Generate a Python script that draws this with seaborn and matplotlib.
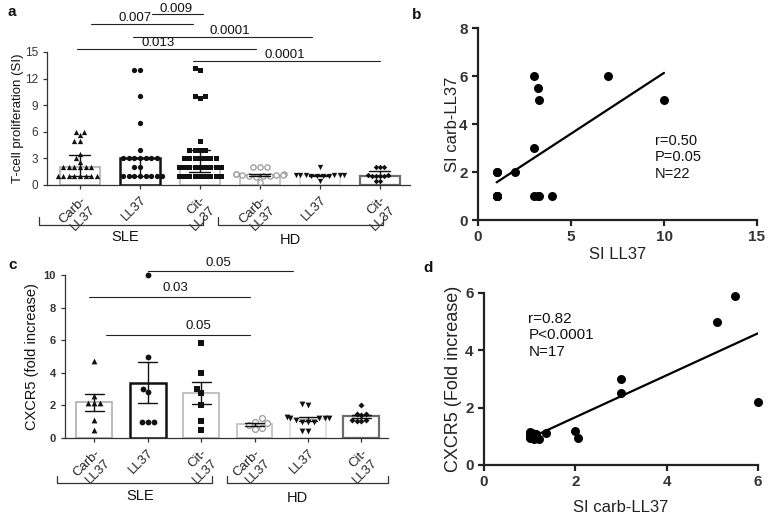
import matplotlib
matplotlib.use('Agg')
import matplotlib.pyplot as plt
import numpy as np
import pandas as pd
import seaborn as sns

# =========================
# data
# =========================
group_keys = ['SLE Carb', 'SLE LL37', 'SLE Cit', 'HD Carb', 'HD LL37', 'HD Cit']
tick_labels = ['Carb-\nLL37', 'LL37', 'Cit-\nLL37', 'Carb-\nLL37', 'LL37', 'Cit-\nLL37']

# panel a - T-cell proliferation (SI)
a_sle_carb = [6, 6, 5, 5, 5.6, 3.5, 3.0, 2.6, 2, 2, 2, 2, 2, 2, 1, 1, 1, 1, 1, 1, 1, 1]
a_sle_ll37 = [13, 13, 10, 7, 4, 3, 3, 3, 3, 3, 3, 3, 2, 2, 1, 1, 1, 1, 1, 1, 1, 1]
a_sle_cit = [13.2, 13, 10, 10, 9.8, 5, 4, 4, 4, 4, 3, 3, 3, 3, 3, 3, 3,
             2, 2, 2, 2, 2, 2, 2, 2, 2, 1, 1, 1, 1, 1, 1, 1, 1, 1]
a_hd_carb = [2, 2, 2, 1.2, 1.2, 1.2, 1.1, 1.1, 1.1, 1, 1, 1, 0.9, 0.3]
a_hd_ll37 = [2, 1.1, 1.1, 1.1, 1.1, 1.1, 1.1, 1, 1, 1, 1, 0.5]
a_hd_cit = [2, 2, 2, 1.1, 1.1, 1, 1, 1, 1, 0.5, 0.5]

# panel c - CXCR5 fold increase
c_sle_carb = [4.7, 2.55, 2.15, 2.15, 2.15, 1.1, 0.5]
c_sle_ll37 = [10, 5, 3, 2.8, 1, 1, 1]
c_sle_cit = [5.85, 4, 3, 2.75, 2.05, 1.05, 0.5]
c_hd_carb = [1.2, 1.0, 0.9, 0.8, 0.6, 0.55]
c_hd_ll37 = [2.0, 2.1, 1.25, 1.2, 1.2, 1.25, 1.3, 1.1, 1.0, 1.0, 1.0, 0.45, 0.4]
c_hd_cit = [2.0, 1.45, 1.4, 1.45, 1.1, 1.05, 1.05, 1.1]

# panel b - SI LL37 vs SI carb-LL37
b_si_ll37 = [1, 1, 1, 1, 1, 1, 1, 2, 3, 3.2, 3.3, 3, 3, 3.2, 3.3, 4, 7, 10]
b_si_carb = [1, 1, 1, 1, 1, 2, 2, 2, 6, 5.5, 5, 3, 1, 1, 1, 1, 6, 5]

# panel d - SI carb-LL37 vs CXCR5
d_si_carb = [1.0, 1.0, 1.05, 1.1, 1.15, 1.2, 1.35, 1.0, 1.1, 1.05,
             2.0, 2.05, 3.0, 3.0, 5.1, 5.5, 6.0]
d_cxcr5 = [1.15, 0.95, 1.1, 1.0, 1.08, 0.9, 1.1, 1.05, 0.92, 1.0,
           1.2, 0.95, 3.0, 2.5, 5.0, 5.9, 2.2]

# significance annotations: (x0, x1, y_line, label, x_text, y_text)
a_sig = [(1.2, 2.05, 19.3, '0.009', 1.6, 19.9),
         (0.18, 1.88, 18.15, '0.007', 0.92, 18.8),
         (0.88, 3.87, 16.7, '0.0001', 2.5, 17.4),
         (-0.05, 2.93, 15.3, '0.013', 1.3, 16.0),
         (1.88, 5.0, 14.0, '0.0001', 3.42, 14.65)]
c_sig = [(1.0, 3.72, 10.25, '0.05', 2.32, 10.75),
         (-0.1, 2.92, 8.65, '0.03', 1.51, 9.2),
         (0.22, 2.92, 6.32, '0.05', 1.95, 6.87)]

sns.set_theme(style='ticks')
plt.rcParams['font.family'] = ['Liberation Sans', 'DejaVu Sans']

fig = plt.figure(figsize=(7.73, 5.23), dpi=100)
ax_a = fig.add_axes([0.0608, 0.6463, 0.4696, 0.2543])
ax_b = fig.add_axes([0.6184, 0.5793, 0.3609, 0.3671])
ax_c = fig.add_axes([0.0841, 0.1625, 0.4179, 0.3117])
ax_d = fig.add_axes([0.6261, 0.1109, 0.3545, 0.3289])

bar_edges = ['#b5b5b5', '#111111', '#bdbdbd', '#c4c4c4', '#dedede', '#6e6e6e']
bar_lws = [1.3, 1.8, 1.3, 1.3, 1.3, 1.6]
markers = ['^', 'o', 's', 'o', 'v', 'D']
dot_sizes = [3.8, 3.8, 3.6, 3.8, 3.8, 2.8]


def bar_panel(ax, groups, estimator, errorbar, size_scale):
    df = pd.concat([pd.DataFrame({'group': k, 'value': v}) for k, v in zip(group_keys, groups)])
    sns.barplot(data=df, x='group', y='value', order=group_keys, estimator=estimator,
                errorbar=errorbar, capsize=0.35, width=0.67, color='white',
                err_kws={'color': '#111111', 'linewidth': 1.0}, ax=ax)
    for p, ec, lw in zip(ax.patches, bar_edges, bar_lws):
        p.set_facecolor('white')
        p.set_edgecolor(ec)
        p.set_linewidth(lw)
        p.set_zorder(1)
    for ln in ax.lines:
        ln.set_zorder(4)
    for i, (k, v) in enumerate(zip(group_keys, groups)):
        if k == 'HD Carb':
            # open gray circles
            sns.swarmplot(x=[k] * len(v), y=v, order=group_keys, marker='o',
                          size=dot_sizes[i] * size_scale, color='white',
                          edgecolor='#9a9a9a', linewidth=0.9, ax=ax)
        else:
            sns.swarmplot(x=[k] * len(v), y=v, order=group_keys, marker=markers[i],
                          size=dot_sizes[i] * size_scale, color='#111111', linewidth=0, ax=ax)
    for coll in ax.collections:
        coll.set_zorder(3)
        coll.set_clip_on(False)
    ax.set_xlim(-0.55, 5.5)
    ax.set_xlabel('')
    ax.set_xticks(range(6))
    ax.set_xticklabels(tick_labels, rotation=45, ha='right', va='top',
                       rotation_mode='anchor', fontsize=9.5, color='#222222')
    sns.despine(ax=ax)
    for s in ['left', 'bottom']:
        ax.spines[s].set_color('#333333')
        ax.spines[s].set_linewidth(0.9)
    ax.tick_params(axis='both', color='#333333', width=0.9, length=3)


def group_bracket(ax, x0, x1, y_line, y_tick, label, x_text, y_text):
    tr = ax.get_xaxis_transform()
    ax.plot([x0, x0, x1, x1], [y_tick, y_line, y_line, y_tick], transform=tr,
            clip_on=False, color='#333333', lw=0.9)
    ax.text(x_text, y_text, label, transform=tr, ha='center', va='center',
            fontsize=10.5, color='#111111')


def sig_lines(ax, items):
    for x0, x1, y, lab, xt, yt in items:
        ax.plot([x0, x1], [y, y], color='#222222', lw=0.8, clip_on=False)
        ax.text(xt, yt, lab, ha='center', va='center', fontsize=9.5, color='#111111')


# =========================
# panel a
# =========================
bar_panel(ax_a, [a_sle_carb, a_sle_ll37, a_sle_cit, a_hd_carb, a_hd_ll37, a_hd_cit],
          'median', ('pi', 50), 1.0)
ax_a.set_ylim(0, 15)
ax_a.set_yticks([0, 3, 6, 9, 12, 15])
ax_a.tick_params(axis='y', labelsize=8.5, labelcolor='#333333')
ax_a.set_ylabel('T-cell proliferation (SI)', fontsize=9.5, color='#111111')
ax_a.yaxis.set_label_coords(-0.063, 0.5)
sig_lines(ax_a, a_sig)
group_bracket(ax_a, -0.68, 2.05, -0.303, -0.242, 'SLE', 0.75, -0.394)
group_bracket(ax_a, 2.3, 5.05, -0.303, -0.242, 'HD', 3.5, -0.417)

# =========================
# panel c
# =========================
bar_panel(ax_c, [c_sle_carb, c_sle_ll37, c_sle_cit, c_hd_carb, c_hd_ll37, c_hd_cit],
          'mean', 'se', 1.1)
ax_c.set_ylim(0, 10)
ax_c.set_yticks([0, 2, 4, 6, 8, 10])
ax_c.tick_params(axis='y', labelsize=8, labelcolor='#333333')
for t in ax_c.get_yticklabels():
    t.set_fontweight('bold')
ax_c.set_ylabel('CXCR5 (fold increase)', fontsize=10.5, color='#111111')
ax_c.yaxis.set_label_coords(-0.08, 0.5)
sig_lines(ax_c, c_sig)
group_bracket(ax_c, -0.7, 2.2, -0.276, -0.233, 'SLE', 0.86, -0.356)
group_bracket(ax_c, 2.48, 5.49, -0.276, -0.233, 'HD', 3.8, -0.37)


# =========================
# panels b and d - correlations
# =========================
def corr_panel(ax, x, y, lim_x, lim_y, xt, yt):
    sns.regplot(x=x, y=y, ci=None, truncate=True, ax=ax,
                scatter_kws={'s': 42, 'color': '#000000', 'alpha': 1, 'linewidths': 0,
                             'clip_on': False, 'zorder': 3},
                line_kws={'color': '#000000', 'lw': 1.6})
    ax.set_xlim(*lim_x)
    ax.set_ylim(*lim_y)
    ax.set_xticks(xt)
    ax.set_yticks(yt)
    sns.despine(ax=ax)
    for s in ['left', 'bottom']:
        ax.spines[s].set_color('#222222')
        ax.spines[s].set_linewidth(1.6)
    ax.tick_params(axis='both', direction='out', length=4, width=1.6, color='#222222',
                   labelsize=11, labelcolor='#333333')
    for t in ax.get_xticklabels() + ax.get_yticklabels():
        t.set_fontweight('bold')


corr_panel(ax_b, b_si_ll37, b_si_carb, (0, 15), (0, 8), [0, 5, 10, 15], [0, 2, 4, 6, 8])
ax_b.set_xlabel('SI LL37', fontsize=12, color='#222222')
ax_b.set_ylabel('SI carb-LL37', fontsize=12, color='#222222')
ax_b.xaxis.set_label_coords(0.5, -0.14)
ax_b.yaxis.set_label_coords(-0.066, 0.5)
ax_b.text(9.5, 3.6, 'r=0.50\nP=0.05\nN=22', ha='left', va='top', fontsize=10.5,
          linespacing=1.25, color='#111111')

corr_panel(ax_d, d_si_carb, d_cxcr5, (0, 6), (0, 6), [0, 2, 4, 6], [0, 2, 4, 6])
ax_d.set_xlabel('SI carb-LL37', fontsize=12, color='#222222')
ax_d.set_ylabel('CXCR5 (Fold increase)', fontsize=13, color='#222222')
ax_d.xaxis.set_label_coords(0.5, -0.203)
ax_d.yaxis.set_label_coords(-0.08, 0.5)
ax_d.text(0.97, 5.35, 'r=0.82\nP<0.0001\nN=17', ha='left', va='top', fontsize=11,
          linespacing=1.25, color='#111111')

# panel letters
for lab, px, py in [('a', 8, 12), ('b', 412, 15), ('c', 8, 265), ('d', 423, 268)]:
    fig.text(px / 773, 1 - py / 523, lab, fontsize=11, fontweight='bold',
             ha='left', va='center', color='#111111')

fig.savefig('out.png', dpi=100)
